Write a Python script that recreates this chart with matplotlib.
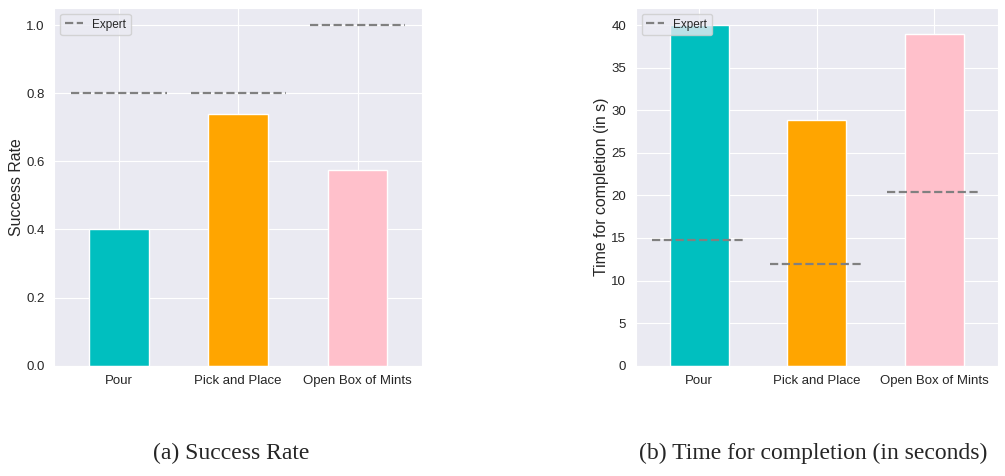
import matplotlib
matplotlib.use("Agg")
import matplotlib.pyplot as plt
import seaborn as sns
import numpy as np

tasks = ["Pour", "Pick and Place", "Open Box of Mints"]
colors = ["c", "orange", "pink"]

success_rate = [0.40, 0.74, 0.575]
expert_success = [0.8, 0.8, 1.0]

completion_time = [40.0, 28.8, 38.9]
expert_time = [14.8, 11.9, 20.4]

sns.set_style("darkgrid")
plt.rcParams["font.family"] = ["Liberation Sans", "DejaVu Sans"]


def bar_panel(ax, values, expert, ylabel):
    x = np.arange(len(tasks))
    ax.bar(x, values, width=0.5, color=colors, edgecolor="white", linewidth=1)
    for i, e in enumerate(expert):
        ax.hlines(e, i - 0.4, i + 0.4, colors="gray", linestyles="--",
                  linewidth=1.6, label="Expert" if i == 0 else None)
    ax.set_xticks(x)
    ax.set_xticklabels(tasks, fontsize=9.5)
    ax.tick_params(axis="y", labelsize=9.5)
    ax.set_ylabel(ylabel, fontsize=11.4, labelpad=1.5)
    ax.legend(loc="upper left", fontsize=8.5, handlelength=1.5)


fig = plt.figure(figsize=(10.05, 4.76), dpi=100)
ax1 = fig.add_axes([0.0542, 0.2317, 0.3657, 0.7515])
ax2 = fig.add_axes([0.6325, 0.2317, 0.3605, 0.7515])

bar_panel(ax1, success_rate, expert_success, "Success Rate")
bar_panel(ax2, completion_time, expert_time, "Time for completion (in s)")

fig.text(0.2303, 0.048, "(a) Success Rate", ha="center", va="center",
         fontsize=17, family="Liberation Serif")
fig.text(0.809, 0.048, "(b) Time for completion (in seconds)", ha="center",
         va="center", fontsize=17, family="Liberation Serif")

fig.savefig("out.png", dpi=100)
